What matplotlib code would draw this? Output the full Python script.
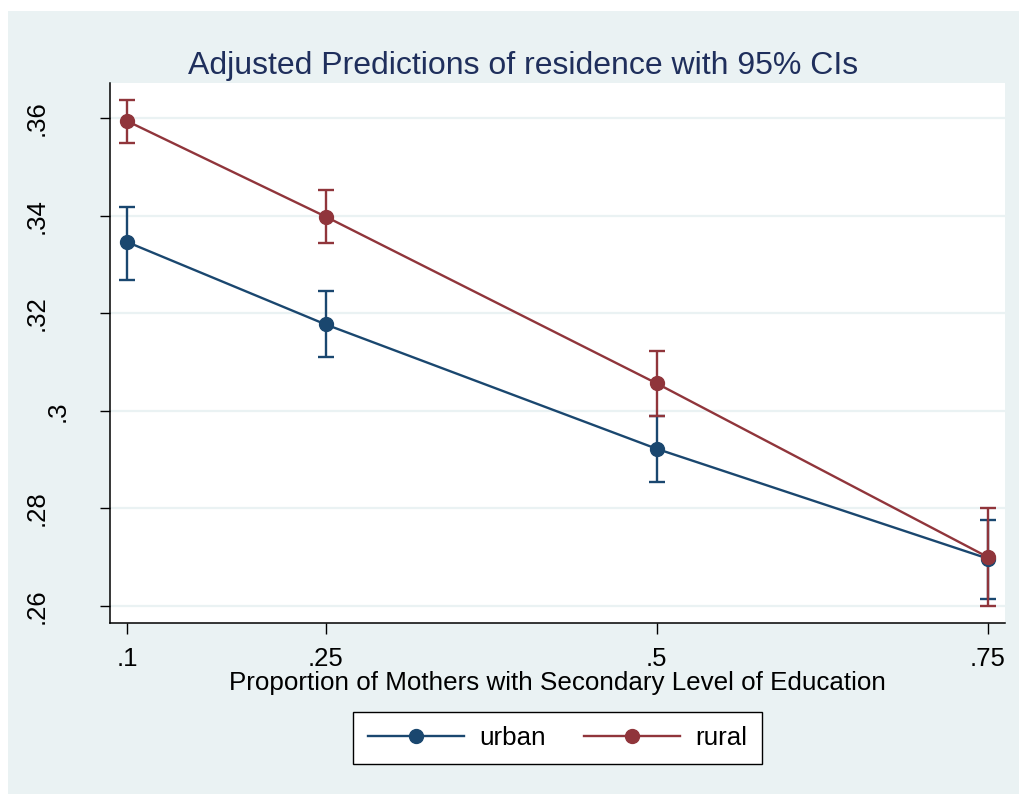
import matplotlib
matplotlib.use("Agg")
import matplotlib.pyplot as plt
import matplotlib.transforms as mtransforms
from matplotlib.patches import Rectangle

plt.rcParams['font.family'] = ['Liberation Sans', 'DejaVu Sans']

# predictive margins by proportion of mothers with secondary education
edu_levels = [0.1, 0.25, 0.5, 0.75]
edu_labels = [".1", ".25", ".5", ".75"]

urban_margin = [0.3346, 0.3177, 0.2922, 0.2697]
urban_lo = [0.3268, 0.3110, 0.2854, 0.2615]
urban_hi = [0.3417, 0.3245, 0.2989, 0.2777]

rural_margin = [0.3594, 0.3398, 0.3056, 0.2700]
rural_lo = [0.3550, 0.3344, 0.2989, 0.2600]
rural_hi = [0.3637, 0.3452, 0.3122, 0.2801]

y_ticks = [0.26, 0.28, 0.30, 0.32, 0.34, 0.36]
y_labels = [".26", ".28", ".3", ".32", ".34", ".36"]

NAVY = "#1a476f"
MAROON = "#90353b"
BG = "#eaf2f3"

fig = plt.figure(figsize=(10.19, 7.94), dpi=100)
fig.patch.set_facecolor("white")
fig.patches.append(Rectangle((8 / 1019, 0), 1 - 8 / 1019, 1 - 11 / 794,
                             transform=fig.transFigure, facecolor=BG,
                             edgecolor="none", zorder=-10))

ax = fig.add_axes([110 / 1019, 171 / 794, 895 / 1019, 540 / 794])
ax.set_zorder(1)
ax.set_facecolor("white")


def draw_series(margin, lo, hi, color, label):
    yerr = [[m - l for m, l in zip(margin, lo)], [h - m for m, h in zip(margin, hi)]]
    ax.errorbar(edu_levels, margin, yerr=yerr, fmt="none", ecolor=color,
                elinewidth=1.7, capsize=5.5, capthick=1.7, zorder=3)
    ax.plot(edu_levels, margin, color=color, lw=1.7, marker="o",
            markersize=10, label=label, zorder=4)


draw_series(urban_margin, urban_lo, urban_hi, NAVY, "urban")
draw_series(rural_margin, rural_lo, rural_hi, MAROON, "rural")

ax.set_xlim(0.0871, 0.7629)
ax.set_ylim(0.2565, 0.3672)

ax.set_xticks(edu_levels)
ax.set_xticklabels(edu_labels, fontsize=18.5)
ax.set_yticks(y_ticks)
ax.set_yticklabels([])
for tick_val in y_ticks:
    ax.axhline(tick_val, color=BG, lw=1.6, zorder=1)

# rotated y labels, placed like stata does (shorter labels sit closer to the axis)
blend = mtransforms.blended_transform_factory(ax.transAxes, ax.transData)
for tick_val, lab in zip(y_ticks, y_labels):
    off = -(10 + 21 * len(lab)) / fig.dpi
    tr = blend + mtransforms.ScaledTranslation(off, 0, fig.dpi_scale_trans)
    ax.text(0, tick_val, lab, transform=tr, rotation=90, ha="center",
            va="center", fontsize=18.5, color="black", clip_on=False)

ax.tick_params(axis="x", direction="out", length=8, width=1, pad=9)
ax.tick_params(axis="y", direction="out", length=7, width=1)

for side in ["top", "right"]:
    ax.spines[side].set_visible(False)
for side in ["left", "bottom"]:
    ax.spines[side].set_linewidth(1.1)
    ax.spines[side].set_color("black")

ax.set_xlabel("Proportion of Mothers with Secondary Level of Education",
              fontsize=18.7, labelpad=0)
fig.text(0.5135, 0.917, "Adjusted Predictions of residence with 95% CIs",
         ha="center", va="center", fontsize=23, color="#1f2f5c")

leg = fig.legend(loc="center", bbox_to_anchor=(0.5472, 0.0705), ncol=2,
                 fontsize=18.7, frameon=True, fancybox=False, edgecolor="black",
                 framealpha=1, handlelength=3.7, handletextpad=0.6,
                 columnspacing=1.45, borderpad=0.55)
leg.get_frame().set_linewidth(1.0)

fig.savefig("out.png", dpi=100, facecolor=fig.get_facecolor())
